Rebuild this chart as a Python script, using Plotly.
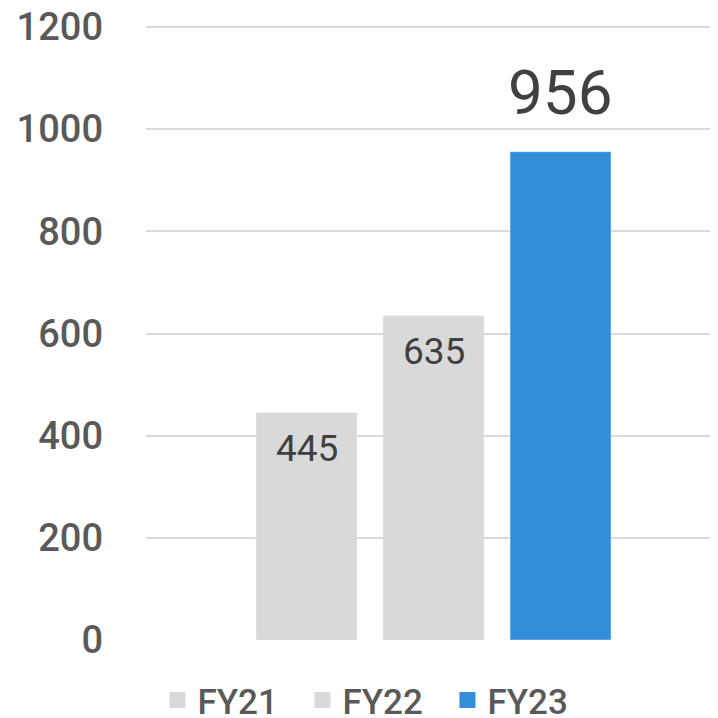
import plotly.graph_objects as go

categories = ["FY21", "FY22", "FY23"]
values = [445, 635, 956]
colors = ["#D9D9D9", "#D9D9D9", "#328ED8"]
y_ticks = [0, 200, 400, 600, 800, 1000, 1200]

FONT = "Roboto"

fig = go.Figure()
for c, v, col in zip(categories, values, colors):
    fig.add_trace(go.Bar(
        x=[c], y=[v], name=c, marker_color=col, width=0.795,
        hoverinfo="skip", showlegend=False, legendgroup=c,
    ))
# legend entries (square swatches)
for c, col in zip(categories, colors):
    fig.add_trace(go.Scatter(
        x=[None], y=[None], mode="markers", name=c, legendgroup=c,
        marker=dict(symbol="square", size=20, color=col),
        showlegend=True, hoverinfo="skip",
    ))

annotations = []
for c, v in zip(categories, values):
    if v == max(values):
        annotations.append(dict(
            x=c, y=v, xref="x", yref="y", text=str(v), showarrow=False,
            yanchor="bottom", yshift=21,
            font=dict(family=FONT, size=62, color="#404040"),
        ))
    else:
        annotations.append(dict(
            x=c, y=v, xref="x", yref="y", text=str(v), showarrow=False,
            yanchor="top", yshift=-12,
            font=dict(family=FONT, size=37, color="#404040"),
        ))

fig.update_layout(
    width=718, height=718,
    margin=dict(l=138, r=8, t=18, b=86, autoexpand=False),
    paper_bgcolor="white", plot_bgcolor="white",
    barmode="overlay",
    showlegend=True,
    legend=dict(
        orientation="h", x=0.02, xanchor="left", y=-0.05, yanchor="top",
        font=dict(family=FONT, size=35, color="#595959", weight=500),
        entrywidth=100, entrywidthmode="pixels",
        itemclick=False, itemdoubleclick=False,
    ),
    annotations=annotations,
    xaxis=dict(
        type="category", categoryorder="array", categoryarray=categories,
        range=[-1.264, 3.240], showticklabels=False, showgrid=False,
        zeroline=False, showline=False, ticks="",
    ),
    yaxis=dict(
        range=[0, 1202], tickvals=y_ticks, ticktext=[str(t) for t in y_ticks],
        showgrid=True, gridcolor="#D9D9D9", gridwidth=1.5,
        zeroline=False, showline=False, ticks="",
        ticklabelstandoff=42, ticklabeloverflow="allow",
        tickfont=dict(family=FONT, size=38, color="#595959", weight=500),
    ),
)

fig.write_html("out.html")
